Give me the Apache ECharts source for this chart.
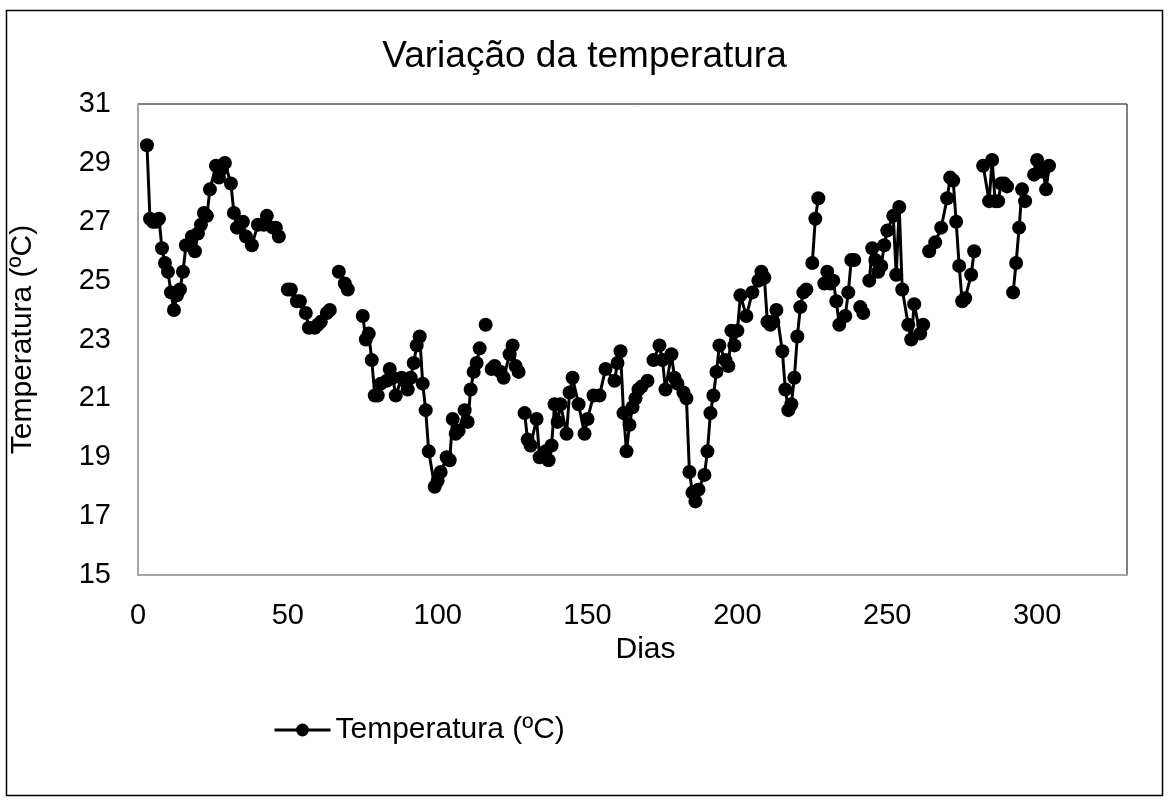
<!DOCTYPE html>
<html>
<head>
<meta charset="utf-8">
<style>
    html, body { margin: 0; padding: 0; background: #fff; }
    #chart { width: 1169px; height: 800px; }
</style>
<script src="https://cdn.jsdelivr.net/npm/echarts@6/dist/echarts.min.js"></script>
</head>
<body>
<div id="chart"></div>
<script>
// dias e temperaturas; null = falha nos dados (quebra da linha)
const days = [
    3, 4, 5, 6, 7, 8, 9, 10, 11, 12, 13, 14, 15, 16, 18, 19, 20, 21, 22, 23, 24, 26, 27, 28, 29, 31, 32, 33, 35, 36, 38, 40, 42, 43, 45, 46, 47,
    48,
    50, 51, 53, 54, 56, 57, 59, 60, 61, 63, 64,
    65,
    67, 69, 70,
    72,
    75, 76, 77, 78, 79, 80, 81, 83, 84, 85, 86, 88, 89, 90, 91, 92, 93, 94, 95, 96, 97, 99, 100, 101, 103, 104, 105, 106, 107, 109, 110, 111, 112, 113, 114,
    115,
    116,
    117,
    118, 119, 121, 122, 124, 125, 126, 127,
    128,
    129, 130, 131, 133, 134, 136, 137, 138, 139, 140, 141, 143, 144, 145, 147, 149, 150, 152, 154, 156, 159, 160, 161, 162, 163, 164, 165, 166, 167, 168, 170,
    171,
    172, 174, 175, 176, 178, 179, 180, 182, 183, 184, 185, 186, 187, 189, 190, 191, 192, 193, 194, 196, 197, 198, 199, 200, 201, 203, 205, 207, 208, 209, 210, 211, 212, 213, 215, 216, 217, 218, 219, 220, 221, 222, 223,
    224,
    225, 226, 227,
    228,
    229, 230, 231, 232, 233, 234, 236, 237, 238, 239,
    240,
    241, 242,
    243,
    244, 245, 246, 247, 248, 249, 250, 252, 253, 254, 255, 257, 258, 259, 261, 262,
    263,
    264, 266, 268, 270, 271, 272, 273, 274, 275, 276, 278, 279,
    280,
    282, 284, 285, 286, 287, 288, 289, 290,
    291,
    292, 293, 294, 295, 296,
    297,
    299, 300, 301, 302, 303, 304
];
const temps = [
    29.6, 27.1, 27.0, 27.0, 27.1, 26.1, 25.6, 25.3, 24.6, 24.0, 24.5, 24.7, 25.3, 26.2, 26.5, 26.0, 26.6, 26.9, 27.3, 27.2, 28.1, 28.9, 28.5, 28.8, 29.0, 28.3, 27.3, 26.8, 27.0, 26.5, 26.2, 26.9, 26.9, 27.2, 26.8, 26.8, 26.5,
    null,
    24.7, 24.7, 24.3, 24.3, 23.9, 23.4, 23.4, 23.5, 23.6, 23.9, 24.0,
    null,
    25.3, 24.9, 24.7,
    null,
    23.8, 23.0, 23.2, 22.3, 21.1, 21.1, 21.5, 21.6, 22.0, 21.7, 21.1, 21.7, 21.6, 21.3, 21.7, 22.2, 22.8, 23.1, 21.5, 20.6, 19.2, 18.0, 18.2, 18.5, 19.0, 18.9, 20.3, 19.8, 19.9, 20.6, 20.2, 21.3, 21.9, 22.2, 22.7,
    null,
    23.5,
    null,
    22.0, 22.1, 21.9, 21.7, 22.5, 22.8, 22.1, 21.9,
    null,
    20.5, 19.6, 19.4, 20.3, 19.0, 19.2, 18.9, 19.4, 20.8, 20.2, 20.8, 19.8, 21.2, 21.7, 20.8, 19.8, 20.3, 21.1, 21.1, 22.0, 21.6, 22.2, 22.6, 20.5, 19.2, 20.1, 20.7, 21.0, 21.3, 21.4, 21.6,
    null,
    22.3, 22.8, 22.3, 21.3, 22.5, 21.7, 21.5, 21.2, 21.0, 18.5, 17.8, 17.5, 17.9, 18.4, 19.2, 20.5, 21.1, 21.9, 22.8, 22.3, 22.1, 23.3, 22.8, 23.3, 24.5, 23.8, 24.6, 25.0, 25.3, 25.1, 23.6, 23.5, 23.6, 24.0, 22.6, 21.3, 20.6, 20.8, 21.7, 23.1, 24.1, 24.6, 24.7,
    null,
    25.6, 27.1, 27.8,
    null,
    24.9, 25.3, 24.9, 25.0, 24.3, 23.5, 23.8, 24.6, 25.7, 25.7,
    null,
    24.1, 23.9,
    null,
    25.0, 26.1, 25.7, 25.3, 25.5, 26.2, 26.7, 27.2, 25.2, 27.5, 24.7, 23.5, 23.0, 24.2, 23.2, 23.5,
    null,
    26.0, 26.3, 26.8, 27.8, 28.5, 28.4, 27.0, 25.5, 24.3, 24.4, 25.2, 26.0,
    null,
    28.9, 27.7, 29.1, 27.7, 27.7, 28.3, 28.3, 28.2,
    null,
    24.6, 25.6, 26.8, 28.1, 27.7,
    null,
    28.6, 29.1, 28.8, 28.7, 28.1, 28.9
];
const xTicks = [0, 50, 100, 150, 200, 250, 300];
const yTicks = [15, 17, 19, 21, 23, 25, 27, 29, 31];

const chart = echarts.init(document.getElementById('chart'));
const fontFamily = '"Liberation Sans", Arial, sans-serif';

const seriesData = days.map((d, i) => [d, temps[i] === null ? '-' : temps[i]]);

const option = {
    animation: false,
    backgroundColor: '#fff',
    textStyle: { fontFamily: fontFamily, color: '#000' },
    title: {
        text: 'Variação da temperatura',
        left: 'center',
        top: 33,
        textStyle: { fontFamily: fontFamily, fontSize: 37, fontWeight: 'normal', color: '#000' }
    },
    grid: {
        left: 137,
        right: 42,
        top: 104,
        bottom: 225,
        show: true,
        borderColor: '#000',
        borderWidth: 1
    },
    xAxis: {
        type: 'value',
        min: xTicks[0],
        max: 330,
        interval: 50,
        name: 'Dias',
        nameLocation: 'middle',
        nameGap: 56,
        nameTextStyle: { fontFamily: fontFamily, fontSize: 30, color: '#000', padding: [0, 0, 0, 26] },
        axisLine: { show: true, lineStyle: { color: '#a6a6a6', width: 2 } },
        axisTick: { show: false },
        splitLine: { show: false },
        axisLabel: {
            fontFamily: fontFamily, fontSize: 29, color: '#000', margin: 26,
            showMaxLabel: false,
            formatter: v => (xTicks.indexOf(v) >= 0 ? String(v) : '')
        }
    },
    yAxis: {
        type: 'value',
        min: yTicks[0],
        max: yTicks[yTicks.length - 1],
        interval: 2,
        name: 'Temperatura (ºC)',
        nameLocation: 'middle',
        nameRotate: 90,
        nameGap: 100,
        nameTextStyle: { fontFamily: fontFamily, fontSize: 30, color: '#000' },
        axisLine: { show: true, lineStyle: { color: '#a6a6a6', width: 2 } },
        axisTick: { show: false },
        splitLine: { show: false },
        axisLabel: { fontFamily: fontFamily, fontSize: 29, color: '#000', margin: 27 }
    },
    legend: {
        left: 268,
        top: 710,
        itemWidth: 56,
        itemHeight: 16,
        itemGap: 20,
        lineStyle: { width: 3 },
        textStyle: { fontFamily: fontFamily, fontSize: 30, color: '#000' },
        data: ['Temperatura (ºC)']
    },
    graphic: [{
        type: 'rect',
        shape: { x: 6.5, y: 10.5, width: 1156, height: 785 },
        style: { fill: 'none', stroke: '#000', lineWidth: 1.5 },
        silent: true,
        z: -10
    }],
    series: [{
        name: 'Temperatura (ºC)',
        type: 'line',
        data: seriesData,
        connectNulls: false,
        symbol: 'circle',
        symbolSize: 14,
        showAllSymbol: true,
        itemStyle: { color: '#000' },
        lineStyle: { color: '#000', width: 3 }
    }]
};

chart.setOption(option);
</script>
</body>
</html>
